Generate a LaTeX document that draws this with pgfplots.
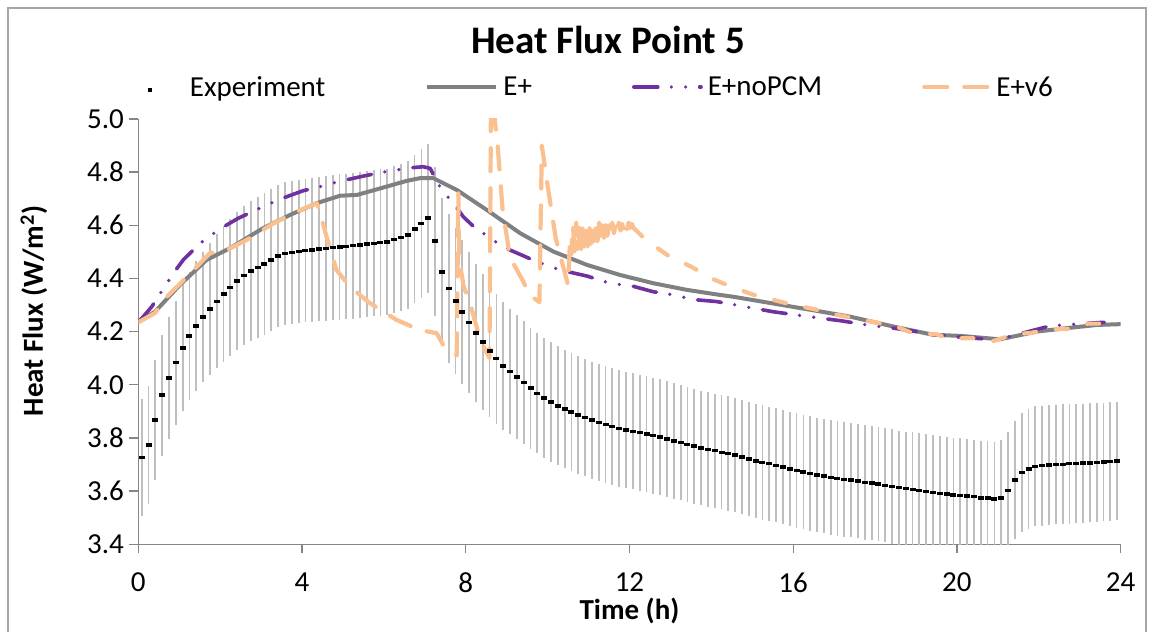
\documentclass[border=0pt]{standalone}
\usepackage{pgfplots}
\pgfplotsset{compat=1.18}
\usepackage{pgfplotstable}
\usepackage{fontspec}
\setmainfont{Carlito}
\definecolor{axgray}{HTML}{868686}
\definecolor{ebgray}{HTML}{BFBFBF}
\definecolor{eplus}{HTML}{808080}
\definecolor{nopcm}{HTML}{7030A0}
\definecolor{vsix}{HTML}{FAC090}
\definecolor{framegray}{HTML}{A6A6A6}
\newcommand{\lblfont}{\fontsize{29}{34}\selectfont}
\pgfplotsset{
  lineimgA/.style={legend image code/.code={\draw[##1] (0pt,0pt) -- (69pt,0pt);}},
  lineimgB/.style={legend image code/.code={\draw[##1] (1.8pt,0pt) -- (69pt,0pt);}},
  lineimgC/.style={legend image code/.code={\draw[##1] (2pt,0pt) -- (67pt,0pt);}},
  markimg/.style={legend image code/.code={\path[draw=none,fill=none] (0pt,-2pt) -- (69pt,2pt);
    \draw[only marks, mark=-, mark size=2pt, mark options={line width=3.5pt, black, line cap=butt}] plot coordinates {(34.5pt,-3pt)};}},
}

\pgfplotstableread{
t v e
0.083 3.726 0.220
0.250 3.774 0.222
0.417 3.868 0.225
0.583 3.961 0.228
0.750 4.026 0.230
0.917 4.083 0.233
1.083 4.138 0.236
1.250 4.183 0.240
1.417 4.221 0.243
1.583 4.255 0.246
1.750 4.285 0.250
1.917 4.314 0.252
2.083 4.341 0.255
2.250 4.365 0.257
2.417 4.391 0.260
2.583 4.411 0.262
2.750 4.428 0.264
2.917 4.441 0.265
3.083 4.455 0.266
3.250 4.470 0.267
3.417 4.485 0.268
3.583 4.493 0.270
3.750 4.498 0.270
3.917 4.502 0.270
4.083 4.505 0.270
4.250 4.507 0.271
4.417 4.510 0.271
4.583 4.512 0.272
4.750 4.516 0.272
4.917 4.518 0.273
5.083 4.521 0.273
5.250 4.523 0.274
5.417 4.526 0.274
5.583 4.530 0.275
5.750 4.532 0.275
5.917 4.535 0.276
6.083 4.537 0.276
6.250 4.547 0.277
6.417 4.553 0.277
6.583 4.563 0.278
6.750 4.586 0.278
6.917 4.606 0.279
7.083 4.627 0.280
7.250 4.540 0.280
7.417 4.424 0.280
7.583 4.363 0.280
7.750 4.315 0.275
7.917 4.273 0.270
8.083 4.234 0.265
8.250 4.195 0.260
8.417 4.161 0.255
8.583 4.127 0.250
8.750 4.098 0.245
8.917 4.071 0.240
9.083 4.050 0.235
9.250 4.029 0.232
9.417 4.008 0.230
9.583 3.987 0.228
9.750 3.968 0.226
9.917 3.951 0.225
10.083 3.935 0.224
10.250 3.921 0.223
10.417 3.908 0.222
10.583 3.897 0.222
10.750 3.887 0.221
10.917 3.877 0.221
11.083 3.867 0.220
11.250 3.858 0.220
11.417 3.850 0.220
11.583 3.843 0.219
11.750 3.836 0.219
11.917 3.830 0.219
12.083 3.825 0.218
12.250 3.820 0.218
12.417 3.814 0.218
12.583 3.809 0.218
12.750 3.803 0.217
12.917 3.796 0.217
13.083 3.789 0.217
13.250 3.782 0.217
13.417 3.776 0.216
13.583 3.769 0.216
13.750 3.762 0.216
13.917 3.757 0.216
14.083 3.752 0.215
14.250 3.746 0.215
14.417 3.741 0.215
14.583 3.736 0.215
14.750 3.728 0.215
14.917 3.720 0.215
15.083 3.713 0.215
15.250 3.708 0.215
15.417 3.703 0.215
15.583 3.697 0.215
15.750 3.690 0.215
15.917 3.683 0.215
16.083 3.677 0.215
16.250 3.671 0.215
16.417 3.666 0.215
16.583 3.661 0.215
16.750 3.656 0.215
16.917 3.651 0.215
17.083 3.647 0.215
17.250 3.644 0.215
17.417 3.642 0.215
17.583 3.639 0.215
17.750 3.632 0.215
17.917 3.630 0.215
18.083 3.626 0.215
18.250 3.622 0.215
18.417 3.617 0.215
18.583 3.613 0.215
18.750 3.609 0.215
18.917 3.606 0.215
19.083 3.602 0.215
19.250 3.598 0.215
19.417 3.595 0.215
19.583 3.592 0.215
19.750 3.589 0.215
19.917 3.586 0.215
20.083 3.583 0.215
20.250 3.581 0.215
20.417 3.579 0.215
20.583 3.575 0.215
20.750 3.574 0.215
20.917 3.571 0.215
21.083 3.575 0.218
21.250 3.602 0.220
21.417 3.641 0.222
21.583 3.670 0.225
21.750 3.684 0.226
21.917 3.693 0.226
22.083 3.696 0.226
22.250 3.699 0.225
22.417 3.700 0.225
22.583 3.701 0.225
22.750 3.703 0.225
22.917 3.704 0.224
23.083 3.705 0.224
23.250 3.706 0.224
23.417 3.708 0.223
23.583 3.709 0.223
23.750 3.711 0.223
23.917 3.714 0.222
}\expdata

\pgfplotstableread{
t v
0.00 4.238
0.41 4.275
1.02 4.376
1.67 4.470
2.00 4.495
2.24 4.514
3.05 4.589
3.71 4.639
4.36 4.683
4.93 4.711
5.34 4.714
5.92 4.739
6.56 4.767
6.88 4.777
7.21 4.777
7.78 4.733
8.51 4.658
9.33 4.570
10.14 4.501
10.96 4.451
11.77 4.413
12.58 4.382
13.40 4.357
14.21 4.338
14.54 4.331
15.50 4.306
16.50 4.280
17.40 4.256
18.45 4.219
19.42 4.188
20.07 4.184
21.05 4.171
21.46 4.184
21.95 4.200
22.68 4.213
23.42 4.225
24.00 4.228
}\eplusdata

\pgfplotstableread{
t v
0.00 4.235
0.12 4.256
0.33 4.294
0.86 4.420
1.10 4.470
1.51 4.532
1.79 4.564
2.16 4.601
2.44 4.626
3.05 4.670
3.46 4.698
4.03 4.730
4.44 4.745
4.89 4.764
5.50 4.785
5.92 4.798
6.31 4.808
6.72 4.817
6.96 4.820
7.13 4.814
7.41 4.733
7.70 4.683
7.94 4.632
8.18 4.597
8.43 4.570
8.84 4.526
9.08 4.507
9.41 4.485
9.73 4.463
10.30 4.432
10.96 4.409
11.50 4.383
12.10 4.370
12.58 4.350
13.00 4.340
13.60 4.320
14.13 4.313
14.60 4.300
15.50 4.275
16.20 4.260
17.20 4.240
17.80 4.225
18.50 4.212
19.26 4.194
20.00 4.180
20.97 4.169
21.50 4.190
22.27 4.221
23.17 4.231
23.60 4.235
}\nopcmdata

\pgfplotstableread{
t v
0.00 4.235
0.41 4.270
0.69 4.330
1.02 4.380
1.40 4.440
1.75 4.495
2.16 4.507
2.65 4.545
3.30 4.607
3.87 4.651
4.36 4.683
4.44 4.645
4.60 4.557
4.84 4.432
5.17 4.369
5.66 4.307
6.31 4.244
6.88 4.206
7.29 4.194
7.45 4.150
7.78 4.110
7.82 4.720
7.84 4.470
7.95 4.370
8.10 4.310
8.35 4.170
8.58 4.100
8.62 5.150
8.72 4.980
8.78 4.900
8.90 4.660
9.05 4.510
9.15 4.460
9.40 4.390
9.55 4.340
9.80 4.310
9.86 4.900
9.98 4.770
10.20 4.550
10.50 4.375
10.55 4.550
10.58 4.490
10.62 4.600
10.66 4.500
10.70 4.610
10.74 4.510
10.78 4.590
10.82 4.510
10.86 4.600
10.90 4.520
10.94 4.610
10.98 4.520
11.02 4.600
11.06 4.530
11.10 4.600
11.14 4.540
11.18 4.600
11.22 4.540
11.26 4.610
11.30 4.550
11.34 4.600
11.38 4.550
11.42 4.605
11.46 4.560
11.50 4.600
11.54 4.560
11.58 4.610
11.62 4.570
11.66 4.600
11.70 4.570
11.74 4.610
11.78 4.580
11.82 4.605
11.86 4.580
11.90 4.610
11.94 4.585
11.98 4.610
12.02 4.590
12.06 4.605
12.10 4.590
}\vsixadata

\pgfplotstableread{
t v
12.10 4.590
12.40 4.545
13.00 4.480
13.50 4.445
14.00 4.400
14.50 4.368
15.00 4.340
15.50 4.320
16.00 4.300
16.50 4.285
17.00 4.265
17.50 4.250
18.00 4.235
18.50 4.220
18.90 4.195
19.50 4.190
19.80 4.175
20.40 4.175
20.90 4.165
21.40 4.190
21.80 4.195
22.30 4.210
22.70 4.210
23.20 4.230
23.70 4.230
}\vsixbdata

\begin{document}
\begin{tikzpicture}
\useasboundingbox (0,0) rectangle (1149pt,632pt);
\draw[framegray, line width=1.2pt] (8pt,-3pt) -- (8pt,624pt) -- (1146pt,624pt) -- (1146pt,-3pt);
\begin{axis}[
  at={(138.3pt,87.7pt)}, anchor=south west,
  scale only axis, width=982.3pt, height=425.4pt,
  xmin=0, xmax=24, ymin=3.4, ymax=5.0,
  xtick={0,4,8,12,16,20,24},
  ytick={3.4,3.6,3.8,4.0,4.2,4.4,4.6,4.8,5.0},
  axis x line*=bottom, axis y line*=left,
  axis line style={draw=axgray, line width=1.3pt, -},
  tick align=outside, major tick length=9pt,
  tick style={draw=axgray, line width=1.3pt},
  /pgf/number format/assume math mode=true,
  ticklabel style={font=\lblfont},
  xticklabel style={yshift=-16pt},
  yticklabel style={xshift=-2pt, /pgf/number format/.cd, fixed, fixed zerofill, precision=1},
  xlabel={\bfseries Time (h)},
  ylabel={\bfseries Heat Flux (W/m\textsuperscript{2})},
  label style={font=\lblfont},
  xlabel style={at={(axis description cs:0.5,-0.1568)}, anchor=center},
  ylabel style={at={(axis description cs:-0.1062,0.5485)}, anchor=center},
  legend columns=4,
  legend style={at={(axis description cs:-0.0227,1.075)}, anchor=west,
    draw=none, fill=none, inner sep=0pt, outer sep=0pt, font=\lblfont,
    /tikz/column sep=0pt,
    /tikz/every odd column/.append style={column sep=5pt},
    /tikz/every even column/.append style={column sep=100pt},
    nodes={inner sep=0pt}},
  legend cell align=left,
  line join=round,
]
\addplot[only marks, mark=-, mark size=3pt,
  mark options={line width=3.5pt, black, solid, line cap=butt},
  markimg,
  error bars/.cd, y dir=both, y explicit, error mark=none,
  error bar style={ebgray, line width=1.8pt, solid}]
  table[x=t, y=v, y error=e] {\expdata};
\addlegendentry{Experiment}
\addplot[eplus, line width=4pt, no marks, lineimgA]
  table[x=t, y=v] {\eplusdata};
\addlegendentry{E+}
\addplot[nopcm, line width=3.6pt, no marks, line cap=round,
  dash pattern=on 24pt off 13.5pt on 0pt off 14.3pt on 0pt off 14pt, lineimgB]
  table[x=t, y=v] {\nopcmdata};
\addlegendentry{E+noPCM}
\addplot[vsix, line width=4.2pt, no marks, line cap=round,
  dash pattern=on 23pt off 17pt, lineimgC]
  table[x=t, y=v] {\vsixadata};
\addlegendentry{E+v6}
\addplot[vsix, line width=4.2pt, no marks, line cap=round,
  dash pattern=on 12pt off 20pt, forget plot]
  table[x=t, y=v] {\vsixbdata};
\end{axis}
\node[font=\bfseries\fontsize{39}{46}\selectfont] at (608pt,592pt) {Heat Flux Point 5};
\end{tikzpicture}
\end{document}
